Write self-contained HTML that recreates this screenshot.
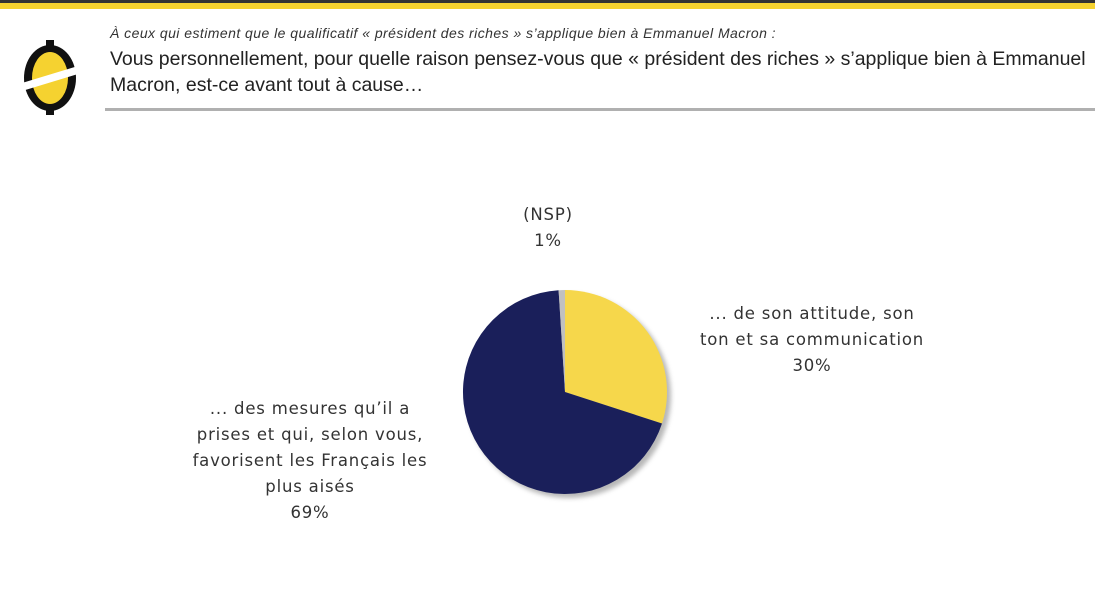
<!DOCTYPE html>
<html><head><meta charset="utf-8"><style>
body{margin:0;width:1095px;height:616px;background:#fff;position:relative;overflow:hidden;font-family:"Liberation Sans",sans-serif;color:#222}
.t{position:absolute;white-space:nowrap}
.c{text-align:center;font-family:"DejaVu Sans",sans-serif;font-size:16.5px;letter-spacing:0.8px;line-height:26px;color:#333}
</style></head><body>
<div style="position:absolute;left:0;top:0;width:1095px;height:3px;background:#333"></div>
<div style="position:absolute;left:0;top:3px;width:1095px;height:6px;background:#f5d230"></div>
<div style="position:absolute;left:105px;top:108px;width:990px;height:3px;background:#b0b0b0"></div>
<svg style="position:absolute;left:22px;top:40px" width="60" height="80" viewBox="0 0 60 80">
<rect x="24" y="0" width="8" height="7" fill="#111"/><rect x="24" y="68" width="8" height="7" fill="#111"/>
<ellipse cx="28" cy="38" rx="26" ry="33" fill="#111"/>
<ellipse cx="28" cy="38" rx="18" ry="26" fill="#f5d230"/>
<polygon points="0,43 56,26 56,34 0,51" fill="#fff"/>
</svg>
<div class="t" style="left:110px;top:25px;font-size:14px;letter-spacing:0.45px;font-style:italic;color:#333">À ceux qui estiment que le qualificatif « président des riches » s’applique bien à Emmanuel Macron :</div>
<div class="t" style="left:110px;top:46px;font-size:19.5px;line-height:26px;color:#222">Vous personnellement, pour quelle raison pensez-vous que « président des riches » s’applique bien à Emmanuel<br>Macron, est-ce avant tout à cause…</div>
<svg style="position:absolute;left:0;top:0" width="1095" height="616">
<defs><filter id="s" x="-20%" y="-20%" width="140%" height="140%"><feGaussianBlur stdDeviation="2.5"/></filter></defs>
<circle cx="569" cy="396" r="102" fill="#999" filter="url(#s)" opacity="0.7"/>
<path d="M565,392 L565,290 A102,102 0 0 1 662,423.5 Z" fill="#f6d74b"/>
<path d="M565,392 L662,423.5 A102,102 0 1 1 558.6,290.2 Z" fill="#1a1f5a"/>
<path d="M565,392 L558.6,290.2 A102,102 0 0 1 565,290 Z" fill="#c0c0c0"/>
</svg>
<div class="t c" style="left:498px;top:202px;width:100px">(NSP)<br>1%</div>
<div class="t c" style="left:672px;top:301px;width:280px">... de son attitude, son<br>ton et sa communication<br>30%</div>
<div class="t c" style="left:170px;top:396px;width:280px">... des mesures qu’il a<br>prises et qui, selon vous,<br>favorisent les Français les<br>plus aisés<br>69%</div>
</body></html>
